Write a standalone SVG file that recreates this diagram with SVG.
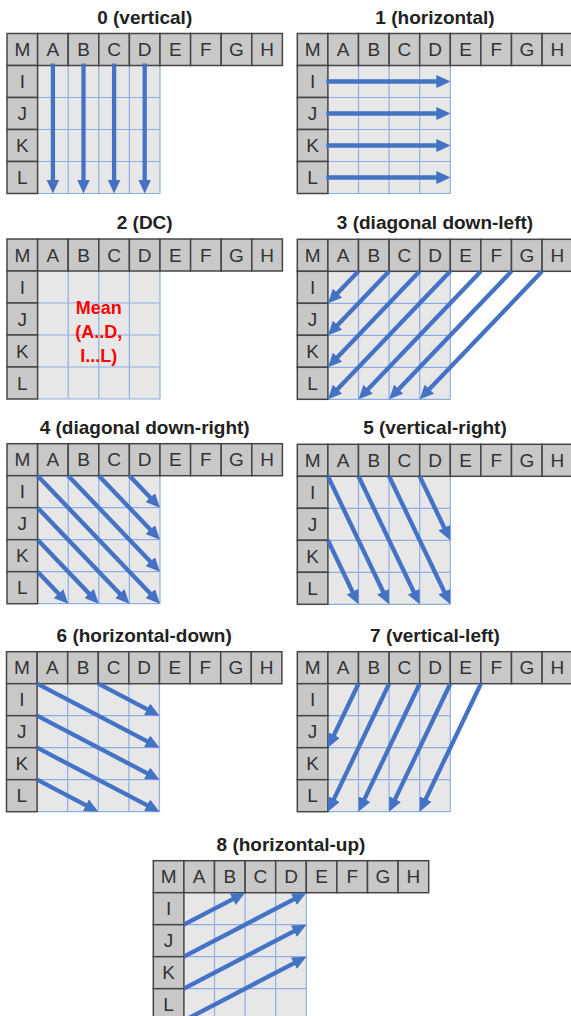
<svg xmlns="http://www.w3.org/2000/svg" xmlns:xlink="http://www.w3.org/1999/xlink" width="571" height="1016" viewBox="0 0 571 1016">
<style>
.hd{fill:#c8c8c8;stroke:#454545;stroke-width:1.5}
.gr{fill:#e7e7e7}
.bl{stroke:#8eaee3;stroke-width:1.2;fill:none}
.lt{font-family:"Liberation Sans",Arial,sans-serif;font-size:19px;fill:#333;text-anchor:middle}
.tt{font-family:"Liberation Sans",Arial,sans-serif;font-size:19px;font-weight:bold;fill:#222;text-anchor:middle}
.mn{font-family:"Liberation Sans",Arial,sans-serif;font-size:18px;font-weight:bold;fill:#ff0000;text-anchor:middle}
.ar{stroke:#4472c4;stroke-width:4.3;fill:none;marker-end:url(#ah)}
</style>
<defs>
<marker id="ah" viewBox="0 0 14 13" refX="4" refY="6.5" markerWidth="14" markerHeight="13" markerUnits="userSpaceOnUse" orient="auto">
<path d="M0,0 L14,6.5 L0,13 z" fill="#4472c4"/>
</marker>
<g id="base">
<rect class="gr" x="30.6" y="32" width="122.4" height="128"/>
<path class="bl" d="M61.2 32V160M91.8 32V160M122.4 32V160M153 32V160M30.6 64H153M30.6 96H153M30.6 128H153M30.6 160H153"/>
<rect class="hd" x="0" y="0" width="30.6" height="32"/>
<rect class="hd" x="30.6" y="0" width="30.6" height="32"/>
<rect class="hd" x="61.2" y="0" width="30.6" height="32"/>
<rect class="hd" x="91.8" y="0" width="30.6" height="32"/>
<rect class="hd" x="122.4" y="0" width="30.6" height="32"/>
<rect class="hd" x="153" y="0" width="30.6" height="32"/>
<rect class="hd" x="183.6" y="0" width="30.6" height="32"/>
<rect class="hd" x="214.2" y="0" width="30.6" height="32"/>
<rect class="hd" x="244.8" y="0" width="30.6" height="32"/>
<rect class="hd" x="0" y="32" width="30.6" height="32"/>
<rect class="hd" x="0" y="64" width="30.6" height="32"/>
<rect class="hd" x="0" y="96" width="30.6" height="32"/>
<rect class="hd" x="0" y="128" width="30.6" height="32"/>
<text class="lt" x="15.3" y="22.8">M</text>
<text class="lt" x="45.9" y="22.8">A</text>
<text class="lt" x="76.5" y="22.8">B</text>
<text class="lt" x="107.1" y="22.8">C</text>
<text class="lt" x="137.7" y="22.8">D</text>
<text class="lt" x="168.3" y="22.8">E</text>
<text class="lt" x="198.9" y="22.8">F</text>
<text class="lt" x="229.5" y="22.8">G</text>
<text class="lt" x="260.1" y="22.8">H</text>
<text class="lt" x="15.3" y="54.8">I</text>
<text class="lt" x="15.3" y="86.8">J</text>
<text class="lt" x="15.3" y="118.8">K</text>
<text class="lt" x="15.3" y="150.8">L</text>
</g>
</defs>

<g id="panel0" transform="translate(7,33.5)">
<text class="tt" x="137.7" y="-10">0 (vertical)</text>
<use xlink:href="#base" href="#base"/>
</g>
<g id="panel1" transform="translate(297.3,33.5)">
<text class="tt" x="137.7" y="-10">1 (horizontal)</text>
<use xlink:href="#base" href="#base"/>
</g>
<g id="panel2" transform="translate(7,239)">
<text class="tt" x="137.7" y="-10">2 (DC)</text>
<use xlink:href="#base" href="#base"/>
<text class="mn" x="91.8" y="75.3">Mean</text>
<text class="mn" x="91.8" y="99.3">(A..D,</text>
<text class="mn" x="91.8" y="123.3">I...L)</text>
</g>
<g id="panel3" transform="translate(297.3,239.3)">
<text class="tt" x="137.7" y="-10">3 (diagonal down-left)</text>
<use xlink:href="#base" href="#base"/>
</g>
<g id="panel4" transform="translate(7,443.7)">
<text class="tt" x="137.7" y="-10">4 (diagonal down-right)</text>
<use xlink:href="#base" href="#base"/>
</g>
<g id="panel5" transform="translate(297.3,444.3)">
<text class="tt" x="137.7" y="-10">5 (vertical-right)</text>
<use xlink:href="#base" href="#base"/>
</g>
<g id="panel6" transform="translate(6.5,651.7)">
<text class="tt" x="137.7" y="-10">6 (horizontal-down)</text>
<use xlink:href="#base" href="#base"/>
</g>
<g id="panel7" transform="translate(297.3,651.7)">
<text class="tt" x="137.7" y="-10">7 (vertical-left)</text>
<use xlink:href="#base" href="#base"/>
</g>
<g id="panel8" transform="translate(153.3,860.7)">
<text class="tt" x="137.7" y="-10">8 (horizontal-up)</text>
<use xlink:href="#base" href="#base"/>
</g>

<g id="connectors">
<g transform="translate(7,33.5)">
<path class="ar" d="M45.9 30V150"/>
<path class="ar" d="M76.5 30V150"/>
<path class="ar" d="M107.1 30V150"/>
<path class="ar" d="M137.7 30V150"/>
</g>
<g transform="translate(297.3,33.5)">
<path class="ar" d="M29 48H143"/>
<path class="ar" d="M29 80H143"/>
<path class="ar" d="M29 112H143"/>
<path class="ar" d="M29 144H143"/>
</g>
<g transform="translate(297.3,239.3)">
<path class="ar" d="M61.2 32L37.51 56.77"/>
<path class="ar" d="M91.8 32L37.51 88.77"/>
<path class="ar" d="M122.4 32L37.51 120.77"/>
<path class="ar" d="M153 32L37.51 152.77"/>
<path class="ar" d="M183.6 32L68.11 152.77"/>
<path class="ar" d="M214.2 32L98.71 152.77"/>
<path class="ar" d="M244.8 32L129.31 152.77"/>
</g>
<g transform="translate(7,443.7)">
<path class="ar" d="M30.6 32L146.09 152.77"/>
<path class="ar" d="M61.2 32L146.09 120.77"/>
<path class="ar" d="M91.8 32L146.09 88.77"/>
<path class="ar" d="M122.4 32L146.09 56.77"/>
<path class="ar" d="M30.6 64L115.49 152.77"/>
<path class="ar" d="M30.6 96L84.89 152.77"/>
<path class="ar" d="M30.6 128L54.29 152.77"/>
</g>
<g transform="translate(297.3,444.3)">
<path class="ar" d="M30.6 32L87.49 150.98"/>
<path class="ar" d="M61.2 32L118.09 150.98"/>
<path class="ar" d="M91.8 32L148.69 150.98"/>
<path class="ar" d="M122.4 32L148.69 86.98"/>
<path class="ar" d="M30.6 96L56.89 150.98"/>
</g>
<g transform="translate(6.5,651.7)">
<path class="ar" d="M30.6 32L144.14 91.37"/>
<path class="ar" d="M91.8 32L144.14 59.37"/>
<path class="ar" d="M30.6 64L144.14 123.37"/>
<path class="ar" d="M30.6 96L144.14 155.37"/>
<path class="ar" d="M30.6 128L82.94 155.37"/>
</g>
<g transform="translate(297.3,651.7)">
<path class="ar" d="M61.2 32L34.91 86.98"/>
<path class="ar" d="M91.8 32L34.91 150.98"/>
<path class="ar" d="M122.4 32L65.51 150.98"/>
<path class="ar" d="M153 32L96.11 150.98"/>
<path class="ar" d="M183.6 32L126.71 150.98"/>
</g>
<g transform="translate(153.3,860.7)">
<path class="ar" d="M30.6 64L82.94 36.63"/>
<path class="ar" d="M30.6 96L144.14 36.63"/>
<path class="ar" d="M30.6 128L144.14 68.63"/>
<path class="ar" d="M30.6 160L144.14 100.63"/>
</g>
</g>
</svg>
